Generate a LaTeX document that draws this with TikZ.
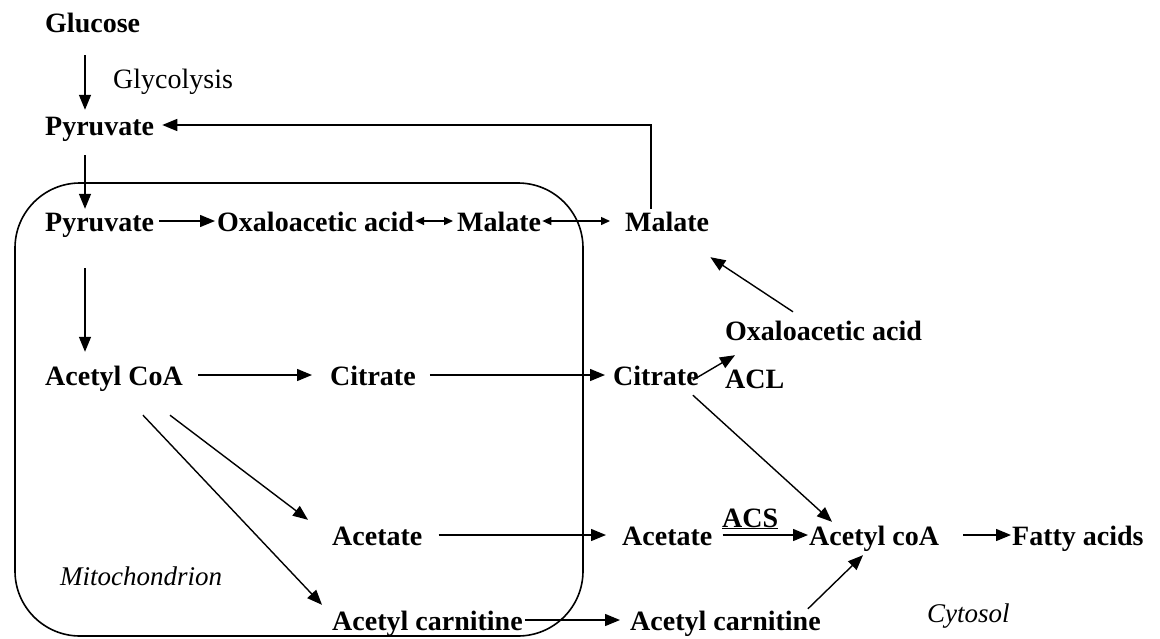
\documentclass[tikz,border=0pt]{standalone}
\usepackage{fontspec}
\setmainfont{Liberation Serif}
\usetikzlibrary{arrows.meta}
\begin{document}
\begin{tikzpicture}[x=1pt,y=-1pt,
  lbl/.style={inner sep=0pt, anchor=base west, text height=22pt, text depth=2pt,
    font=\fontsize{28}{32}\selectfont\bfseries},
  plain/.style={inner sep=0pt, anchor=base west, text height=22pt, text depth=2pt,
    font=\fontsize{28}{32}\selectfont},
  ital/.style={inner sep=0pt, anchor=base west, text height=22pt, text depth=2pt,
    font=\fontsize{27}{32}\selectfont\itshape},
  arr/.style={line width=1.4pt, -{Triangle[length=15pt,width=12pt]}},
  darr/.style={line width=1.4pt, {Triangle[length=9pt,width=8pt]}-{Triangle[length=9pt,width=8pt]}},
  membrane/.style={line width=1.6pt, rounded corners=65pt}]
\useasboundingbox (0,0) rectangle (1160,638);
% mitochondrion
\draw[membrane] (15,183) rectangle (583,636);
% nodes
\node[lbl] (glu) at (45,32) {Glucose};
\node[plain] (gly) at (113,88) {Glycolysis};
\node[lbl] (pyr1) at (45,135) {Pyruvate};
\node[lbl] (pyr2) at (45,231) {Pyruvate};
\node[lbl] (oaa1) at (217,231) {Oxaloacetic acid};
\node[lbl] (mal1) at (457,231) {Malate};
\node[lbl] (mal2) at (625,231) {Malate};
\node[lbl] (oaa2) at (725,340) {Oxaloacetic acid};
\node[lbl] (acoa1) at (45,385) {Acetyl CoA};
\node[lbl] (cit1) at (330,385) {Citrate};
\node[lbl] (cit2) at (613,385) {Citrate};
\node[lbl] (acl) at (725,388) {ACL};
\node[lbl] (acs) at (722,527) {\underline{ACS}};
\node[lbl] (ace1) at (332,545) {Acetate};
\node[lbl] (ace2) at (622,545) {Acetate};
\node[lbl] (acoa2) at (809,545) {Acetyl coA};
\node[lbl] (fat) at (1012,545) {Fatty acids};
\node[ital] (mito) at (60,585) {Mitochondrion};
\node[lbl] (acar1) at (332,630) {Acetyl carnitine};
\node[lbl] (acar2) at (630,630) {Acetyl carnitine};
\node[ital] (cyto) at (927,622) {Cytosol};
% connectors
\draw[arr] ([xshift=40pt,yshift=-21pt]glu.south west) -- ([xshift=40pt,yshift=3pt]pyr1.north west);
\draw[arr] ([xshift=26pt]mal2.north west) |- ([xshift=8pt]pyr1.east);
\draw[arr] ([xshift=40pt,yshift=-18pt]pyr1.south west) -- ([xshift=40pt]pyr2.north west);
\draw[arr] ([xshift=5pt]pyr2.east) -- ([xshift=-2pt]oaa1.west);
\draw[darr] ([xshift=1pt]oaa1.east) -- ([xshift=-4pt]mal1.west);
\draw[darr] ([xshift=1pt]mal1.east) -- ([xshift=-15pt]mal2.west);
\draw[arr] ([xshift=68pt,yshift=6pt]oaa2.north west) -- ([xshift=1pt,yshift=-24pt]mal2.south east);
\draw[arr] ([xshift=40pt,yshift=-35pt]pyr2.south west) -- ([xshift=40pt,yshift=11pt]acoa1.north west);
\draw[arr] ([xshift=15pt]acoa1.east) -- ([xshift=-18pt]cit1.west);
\draw[arr] ([xshift=14pt]cit1.east) -- ([xshift=-8pt]cit2.west);
\draw[arr] ([xshift=-6pt,yshift=-5pt]cit2.east) -- ([xshift=10pt,yshift=-13pt]oaa2.south west);
\draw[arr] ([xshift=-6pt,yshift=-8pt]cit2.south east) -- ([xshift=23pt,yshift=1pt]acoa2.north west);
\draw[arr] ([xshift=125pt,yshift=-28pt]acoa1.south west) -- ([xshift=-24pt,yshift=3pt]ace1.north west);
\draw[arr] ([xshift=98pt,yshift=-28pt]acoa1.south west) -- ([xshift=-10pt,yshift=3pt]acar1.north west);
\draw[arr] ([xshift=16pt]ace1.east) -- ([xshift=-16pt]ace2.west);
\draw[arr] ([xshift=10pt]ace2.east) -- ([xshift=-1pt]acoa2.west);
\draw[arr] ([xshift=24pt]acoa2.east) -- ([xshift=-1pt]fat.west);
\draw[arr] ([xshift=2pt]acar1.east) -- ([xshift=-10pt]acar2.west);
\draw[arr] ([xshift=-13pt,yshift=-1pt]acar2.north east) -- ([xshift=54pt,yshift=-8pt]acoa2.south west);
\end{tikzpicture}
\end{document}
